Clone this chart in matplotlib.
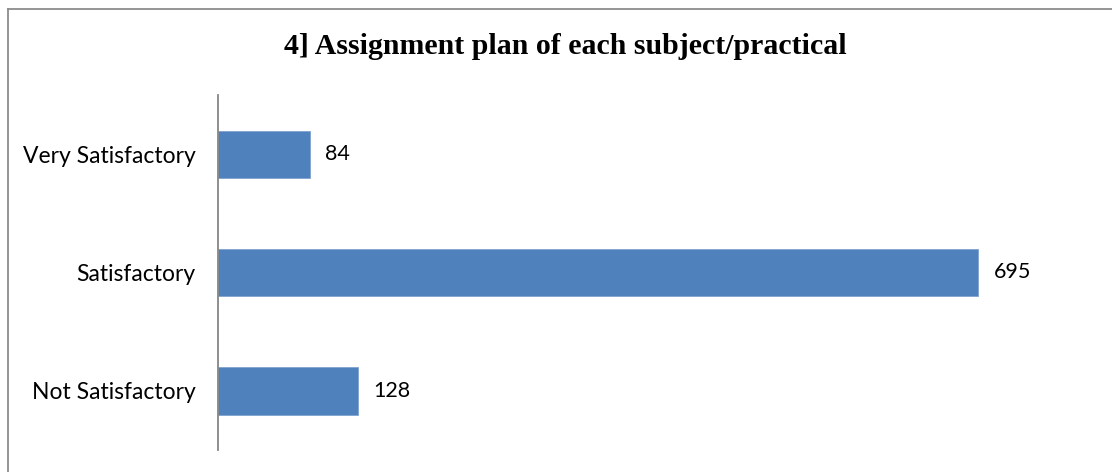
import matplotlib
matplotlib.use("Agg")
import matplotlib.pyplot as plt
from matplotlib.lines import Line2D

# data
categories = ["Not Satisfactory", "Satisfactory", "Very Satisfactory"]
counts = [128, 695, 84]
title = "4] Assignment plan of each subject/practical"

W, H = 1112, 472
fig = plt.figure(figsize=(W / 100, H / 100), dpi=100)
ax = fig.add_axes([218 / W, 1 - 450 / H, (1093 - 218) / W, (450 - 95) / H])

bars = ax.barh(categories, counts, height=0.4, color="#4f81bd",
               edgecolor="#7fa3d1", linewidth=0.6)
ax.set_xlim(0, 800)
ax.set_ylim(-0.5, 2.5)

for rect, v in zip(bars, counts):
    ax.text(rect.get_width() + 14, rect.get_y() + rect.get_height() / 2, str(v),
            va="center", ha="left", fontsize=15.5, family="Lato", color="black")

for s in ["top", "right", "bottom"]:
    ax.spines[s].set_visible(False)
ax.spines["left"].set_color("#868686")
ax.spines["left"].set_linewidth(1.3)
ax.set_xticks([])
ax.tick_params(axis="y", length=0, pad=16)
for lab in ax.get_yticklabels():
    lab.set_family("Lato")
    lab.set_fontsize(16.5)

fig.text(565 / W, 1 - 47 / H, title, ha="center", va="center",
         fontsize=21.5, fontweight="bold", family="Liberation Serif")

# outer frame, only left and top edges visible
fig.add_artist(Line2D([7.5 / W, 7.5 / W], [0, 1 - 9 / H], transform=fig.transFigure,
                      color="#8c8c8c", linewidth=1.3))
fig.add_artist(Line2D([7.5 / W, 1], [1 - 9 / H, 1 - 9 / H], transform=fig.transFigure,
                      color="#8c8c8c", linewidth=1.3))

fig.savefig("out.png", dpi=100)
